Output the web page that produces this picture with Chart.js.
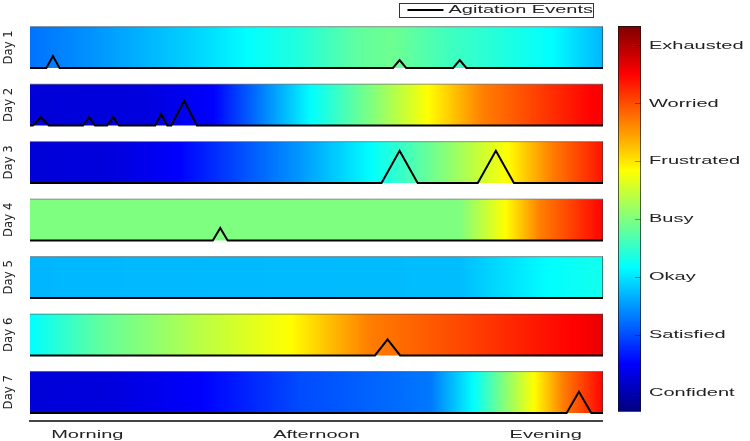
<!DOCTYPE html>
<html><head><meta charset="utf-8">
<script src="https://cdn.jsdelivr.net/npm/chart.js@4.4.1/dist/chart.umd.min.js"></script>
<style>
html,body{margin:0;padding:0;background:#fff;width:750px;height:441px;overflow:hidden}
#main{position:absolute;left:0;top:0}
#bar{position:absolute;left:606px;top:0}
</style></head><body>
<canvas id="main" width="603" height="441"></canvas>
<canvas id="bar" width="144" height="441"></canvas>
<script>
// ---------- data ----------
const dayLabels = ['Day 1','Day 2','Day 3','Day 4','Day 5','Day 6','Day 7'];
const moodLevels = ['Confident','Satisfied','Okay','Busy','Frustrated','Worried','Exhausted'];
const timeLabels = ['Morning','Afternoon','Evening'];
const timeTicks = [10, 50, 90];
const moodRange = [0.68, 7.345];

// mood samples: [time of day (0-100), mood level (1 = Confident ... 7 = Exhausted)]
const day1Mood = [[0,2.26],[12,2.5],[30,2.93],[38,3.18],[47,3.4],[57,3.8],[63,3.9],[73,3.6],[82,3.4],[91,3.18],[100,2.7]];
const day2Mood = [[0,1.26],[20,1.3],[32,1.51],[49,3.18],[59.5,4.01],[69.5,4.85],[79,5.68],[98,6.51],[100,6.55]];
const day3Mood = [[0,1.26],[15,1.3],[26,1.51],[47,2.5],[59.5,3.18],[71.7,4.01],[83.4,4.85],[91,5.68],[100,6.4]];
const day4Mood = [[0,4.01],[75,4.01],[83,4.85],[89,5.68],[100,6.5]];
const day5Mood = [[0,2.71],[75,2.75],[90.5,3.18],[100,3.3]];
const day6Mood = [[0,3.18],[12,3.8],[30,4.4],[45.5,4.85],[59,5.68],[73,6.0],[90,6.4],[97,6.55],[100,6.68]];
const day7Mood = [[0,1.26],[15,1.3],[30,1.51],[47,2.0],[70,2.3],[77.4,3.18],[82.5,4.01],[88,4.85],[93,5.68],[100,6.5]];
const moodByDay = [day1Mood, day2Mood, day3Mood, day4Mood, day5Mood, day6Mood, day7Mood];

// agitation events: [time, intensity (0-1 of strip), half duration]
const day1Events = [[4.0,0.29,1.15],[64.5,0.19,1.15],[75.0,0.19,1.15]];
const day2Events = [[1.9,0.2,1.4],[10.3,0.2,1.05],[14.5,0.2,1.05],[22.9,0.28,1.05],[26.9,0.6,2.24]];
const day3Events = [[64.5,0.78,3.15],[81.3,0.78,3.15]];
const day4Events = [[33.2,0.3,1.3]];
const day5Events = [];
const day6Events = [[62.4,0.39,2.2]];
const day7Events = [[95.8,0.51,2.15]];
const eventsByDay = [day1Events, day2Events, day3Events, day4Events, day5Events, day6Events, day7Events];

// ---------- helpers ----------
const TEXT_STRETCH = 2;
function stretchText(canvas){
  const ctx = canvas.getContext('2d');
  const fill = ctx.fillText.bind(ctx);
  const measure = ctx.measureText.bind(ctx);
  ctx.fillText = function(text, x, y, maxWidth){
    const m = ctx.getTransform();
    if (Math.abs(m.b) > 1e-6 || Math.abs(m.c) > 1e-6) {
      return maxWidth === undefined ? fill(text, x, y) : fill(text, x, y, maxWidth);
    }
    ctx.save(); ctx.translate(x, y); ctx.scale(TEXT_STRETCH, 1); fill(text, 0, 0); ctx.restore();
  };
  ctx.measureText = function(text){
    const m = measure(text);
    return {width: m.width * TEXT_STRETCH,
      actualBoundingBoxAscent: m.actualBoundingBoxAscent, actualBoundingBoxDescent: m.actualBoundingBoxDescent,
      actualBoundingBoxLeft: m.actualBoundingBoxLeft * TEXT_STRETCH, actualBoundingBoxRight: m.actualBoundingBoxRight * TEXT_STRETCH,
      fontBoundingBoxAscent: m.fontBoundingBoxAscent, fontBoundingBoxDescent: m.fontBoundingBoxDescent};
  };
}
function jetColor(v){
  const t = Math.min(1, Math.max(0, (v - moodRange[0]) / (moodRange[1] - moodRange[0])));
  const c = x => Math.round(255 * Math.min(1, Math.max(0, x)));
  return `rgb(${c(1.5 - Math.abs(4*t - 3))},${c(1.5 - Math.abs(4*t - 2))},${c(1.5 - Math.abs(4*t - 1))})`;
}
function moodAt(samples, time){
  for (let i = 1; i < samples.length; i++) {
    if (time <= samples[i][0]) {
      const [t0, v0] = samples[i-1], [t1, v1] = samples[i];
      return v0 + (v1 - v0) * (time - t0) / (t1 - t0);
    }
  }
  return samples[samples.length - 1][1];
}
const CLEAR = 'rgba(0,0,0,0)';
function bandFill(samples){
  return (context) => {
    const chart = context.chart, xs = chart.scales.x;
    if (!chart.chartArea || !xs) return CLEAR;
    const x0 = xs.getPixelForValue(0), x1 = xs.getPixelForValue(100);
    if (!isFinite(x0) || !isFinite(x1) || x0 === x1) return CLEAR;
    const g = chart.ctx.createLinearGradient(x0, 0, x1, 0);
    const N = 200;
    for (let i = 0; i <= N; i++) g.addColorStop(i / N, jetColor(moodAt(samples, 100 * i / N)));
    return g;
  };
}
function eventTrace(events){
  const pts = [{x: 0, y: 0}];
  events.forEach(([t, h, w]) => pts.push({x: t - w, y: 0}, {x: t, y: h}, {x: t + w, y: 0}));
  pts.push({x: 100, y: 0});
  return pts;
}

const SANS = "'Liberation Sans', Arial, sans-serif";
const NARROW = "'Liberation Sans Narrow', 'Arial Narrow', 'DejaVu Sans Condensed', sans-serif";

// ---------- main chart ----------
const datasets = [];
dayLabels.forEach((d, i) => {
  datasets.push({label: 'Agitation Events', data: eventTrace(eventsByDay[i]), yAxisID: 'y' + (i+1),
    borderColor: '#000', backgroundColor: '#000', borderWidth: 2, pointRadius: 0, tension: 0,
    fill: false, order: 1, borderJoinStyle: 'miter', clip: 4});
  datasets.push({label: d + ' mood', data: [{x: 0, y: 1}, {x: 100, y: 1}, {x: 100, y: 0}], yAxisID: 'y' + (i+1),
    borderColor: 'rgba(60,60,60,0.55)', borderWidth: 1, pointRadius: 0, tension: 0,
    fill: {value: 0}, backgroundColor: bandFill(moodByDay[i]), order: 2, clip: 2});
});

const scales = {
  x: {type: 'linear', position: 'bottom', min: 0, max: 100,
    grid: {display: false, drawTicks: false, tickLength: 0},
    border: {display: true, color: '#444', width: 2},
    afterBuildTicks: (axis) => { axis.ticks = timeTicks.map(v => ({value: v})); },
    ticks: {autoSkip: false, maxRotation: 0, minRotation: 0, padding: 8, color: '#222',
      font: {family: SANS, size: 10},
      callback: (v) => timeLabels[timeTicks.indexOf(v)]}}
};
dayLabels.forEach((d, i) => {
  scales['y' + (i+1)] = {type: 'linear', position: 'left', stack: 'days', stackWeight: 1, weight: 10 - i,
    min: -0.196, max: 1.196,
    grid: {display: false, drawTicks: false, tickLength: 0},
    border: {display: false},
    ticks: {display: false},
    title: {display: true, text: d, color: '#222', font: {family: NARROW, size: 13}, padding: {top: 1, bottom: 13.4}}};
});

const legendFrame = {
  id: 'legendFrame',
  afterDraw(chart){
    const lg = chart.legend;
    if (!lg || !lg.legendHitBoxes || !lg.legendHitBoxes.length) return;
    const hb = lg.legendHitBoxes[0];
    const ctx = chart.ctx;
    ctx.save(); ctx.strokeStyle = '#333'; ctx.lineWidth = 1;
    ctx.strokeRect(Math.round(hb.left - 8) + 0.5, Math.round(hb.top - 2) + 0.5, Math.round(hb.width + 8), Math.round(hb.height + 4));
    ctx.restore();
  }
};

const mainCanvas = document.getElementById('main');
stretchText(mainCanvas);
new Chart(mainCanvas, {
  type: 'line',
  data: {datasets},
  options: {
    responsive: false, animation: false, devicePixelRatio: 1,
    layout: {padding: {top: -5, left: 0, right: 0, bottom: -8}},
    scales,
    plugins: {
      tooltip: {enabled: false},
      legend: {display: true, position: 'top', align: 'end', maxHeight: 23.6,
        labels: {font: {family: SANS, size: 10}, color: '#222', usePointStyle: true, pointStyle: 'line',
          pointStyleWidth: 36, boxWidth: 36, padding: 10,
          filter: (item) => item.datasetIndex === 0}}
    }
  },
  plugins: [legendFrame]
});

// ---------- colour bar ----------
const barCanvas = document.getElementById('bar');
stretchText(barCanvas);
new Chart(barCanvas, {
  type: 'bar',
  data: {labels: ['mood'], datasets: [{data: [moodRange], borderColor: '#111', borderWidth: 1, borderSkipped: false,
    barPercentage: 1, categoryPercentage: 1,
    backgroundColor: (context) => {
      const chart = context.chart, ys = chart.scales.y;
      if (!chart.chartArea || !ys) return CLEAR;
      const yb = ys.getPixelForValue(moodRange[0]), yt = ys.getPixelForValue(moodRange[1]);
      if (!isFinite(yb) || !isFinite(yt) || yb === yt) return CLEAR;
      const g = chart.ctx.createLinearGradient(0, yb, 0, yt);
      const N = 64;
      for (let i = 0; i <= N; i++) g.addColorStop(i / N, jetColor(moodRange[0] + (moodRange[1] - moodRange[0]) * i / N));
      return g;
    }}]},
  options: {
    responsive: false, animation: false, devicePixelRatio: 1,
    layout: {padding: {left: 12, top: 26, bottom: 29.3, right: 0}},
    plugins: {legend: {display: false}, tooltip: {enabled: false}},
    scales: {
      x: {display: false},
      y: {position: 'right', min: moodRange[0], max: moodRange[1],
        afterBuildTicks: (axis) => { axis.ticks = moodLevels.map((_, i) => ({value: i + 1})); },
        afterFit: (axis) => { axis.width = 109; },
        grid: {display: true, drawOnChartArea: false, drawTicks: true, tickLength: -6, color: 'rgba(0,0,0,0.35)', z: 1},
        border: {display: false},
        ticks: {padding: 14, color: '#222', font: {family: SANS, size: 10},
          callback: (v) => moodLevels[Math.round(v) - 1]}}
    }
  }
});
</script></body></html>
